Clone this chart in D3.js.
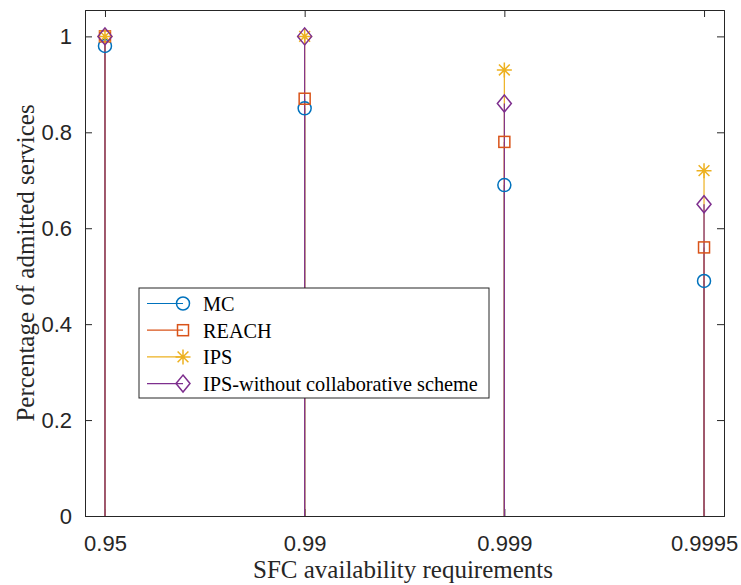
<!DOCTYPE html>
<html>
<head>
<meta charset="utf-8">
<script src="https://cdn.jsdelivr.net/npm/d3@7"></script>
<style>
body { margin: 0; background: #fff; }
</style>
</head>
<body>
<svg id="chart" width="741" height="585"></svg>
<script>
var categories = ["0.95", "0.99", "0.999", "0.9995"];
var mcValues = [0.98, 0.85, 0.69, 0.49];
var reachValues = [1.0, 0.87, 0.78, 0.56];
var ipsValues = [1.0, 1.0, 0.93, 0.72];
var ipsNoCollabValues = [1.0, 1.0, 0.86, 0.65];
var yTicks = [0, 0.2, 0.4, 0.6, 0.8, 1];

var series = [
	{name: "MC", values: mcValues, color: "#0072BD", marker: "circle"},
	{name: "REACH", values: reachValues, color: "#D95319", marker: "square"},
	{name: "IPS", values: ipsValues, color: "#EDB120", marker: "star"},
	{name: "IPS-without collaborative scheme", values: ipsNoCollabValues, color: "#7E2F8E", marker: "diamond"}
];

var plotLeft = 85, plotRight = 724, plotTop = 10, plotBottom = 516;
var svg = d3.select("#chart");

var x = d3.scaleLinear().domain([0.9, 4.1]).range([plotLeft, plotRight]);
var y = d3.scaleLinear().domain([0, 1.055]).range([plotBottom, plotTop]);

// draw a marker shape centred at 0,0
var drawMarker = function(g, type, color) {
	if (type == "circle") {
		g.append("circle").attr("r", 6.5).attr("fill", "none").attr("stroke", color).attr("stroke-width", 1.5);
	} else if (type == "square") {
		g.append("rect").attr("x", -5.5).attr("y", -5.5).attr("width", 11).attr("height", 11)
			.attr("fill", "none").attr("stroke", color).attr("stroke-width", 1.5);
	} else if (type == "star") {
		var r = 7.5;
		var p = "M" + (-r) + ",0L" + r + ",0M0," + (-r) + "L0," + r;
		var d = r * 0.72;
		p += "M" + (-d) + "," + (-d) + "L" + d + "," + d + "M" + (-d) + "," + d + "L" + d + "," + (-d);
		g.append("path").attr("d", p).attr("fill", "none").attr("stroke", color).attr("stroke-width", 1.5);
	} else if (type == "diamond") {
		g.append("path").attr("d", "M0,-8.5L7,0L0,8.5L-7,0Z")
			.attr("fill", "none").attr("stroke", color).attr("stroke-width", 1.5);
	}
};

// axes box with inner ticks
var yAxisL = d3.axisLeft(y).tickValues(yTicks).tickSize(-7).tickPadding(13)
	.tickFormat(function(d) { return d == 0 || d == 1 ? d3.format("d")(d) : d3.format(".1f")(d); });
var gy = svg.append("g").attr("transform", "translate(" + plotLeft + ",0)").call(yAxisL);
var yAxisR = d3.axisRight(y).tickValues(yTicks).tickSize(-7).tickFormat("");
var gyr = svg.append("g").attr("transform", "translate(" + plotRight + ",0)").call(yAxisR);

var xAxisB = d3.axisBottom(x).tickValues([1, 2, 3, 4]).tickSize(-7).tickPadding(19)
	.tickFormat(function(d) { return categories[d - 1]; });
var gx = svg.append("g").attr("transform", "translate(0," + plotBottom + ")").call(xAxisB);
var xAxisT = d3.axisTop(x).tickValues([1, 2, 3, 4]).tickSize(-7).tickFormat("");
var gxt = svg.append("g").attr("transform", "translate(0," + plotTop + ")").call(xAxisT);

[gy, gyr, gx, gxt].forEach(function(g) {
	g.select(".domain").attr("stroke", "#262626").attr("stroke-width", 1);
	g.selectAll(".tick line").attr("stroke", "#262626");
	g.selectAll(".tick text").attr("fill", "#262626")
		.style("font-family", "'Liberation Sans', Arial, sans-serif").style("font-size", "22px");
});

// stems
series.forEach(function(s) {
	svg.append("g").selectAll("line")
		.data(s.values)
		.enter()
		.append("line")
		.attr("x1", function(d, i) { return x(i + 1); })
		.attr("x2", function(d, i) { return x(i + 1); })
		.attr("y1", y(0))
		.attr("y2", function(d) { return y(d); })
		.attr("stroke", s.color)
		.attr("stroke-width", 1.2);
});

// markers
series.forEach(function(s) {
	s.values.forEach(function(d, i) {
		var g = svg.append("g").attr("transform", "translate(" + x(i + 1) + "," + y(d) + ")");
		drawMarker(g, s.marker, s.color);
	});
});

// axis labels
svg.append("text")
	.attr("x", 403)
	.attr("y", 578)
	.attr("text-anchor", "middle")
	.style("font-family", "'Liberation Serif', 'Times New Roman', serif")
	.style("font-size", "25px")
	.attr("fill", "#262626")
	.text("SFC availability requirements");

svg.append("text")
	.attr("transform", "translate(34," + ((plotTop + plotBottom) / 2) + ") rotate(-90)")
	.attr("text-anchor", "middle")
	.style("font-family", "'Liberation Serif', 'Times New Roman', serif")
	.style("font-size", "25px")
	.attr("fill", "#262626")
	.text("Percentage of admitted services");

// legend
var legend = svg.append("g").attr("transform", "translate(139,288)");
legend.append("rect").attr("width", 350).attr("height", 110)
	.attr("fill", "#fff").attr("stroke", "#262626").attr("stroke-width", 1);
series.forEach(function(s, i) {
	var ly = 15.5 + i * 26.7;
	legend.append("line").attr("x1", 8).attr("x2", 44).attr("y1", ly).attr("y2", ly)
		.attr("stroke", s.color).attr("stroke-width", 1.2);
	var mg = legend.append("g").attr("transform", "translate(44," + ly + ")");
	drawMarker(mg, s.marker, s.color);
	legend.append("text").attr("x", 64).attr("y", ly + 7.5)
		.style("font-family", "'Liberation Serif', 'Times New Roman', serif")
		.style("font-size", "20.3px")
		.attr("fill", "#000")
		.text(s.name);
});
</script>
</body>
</html>
